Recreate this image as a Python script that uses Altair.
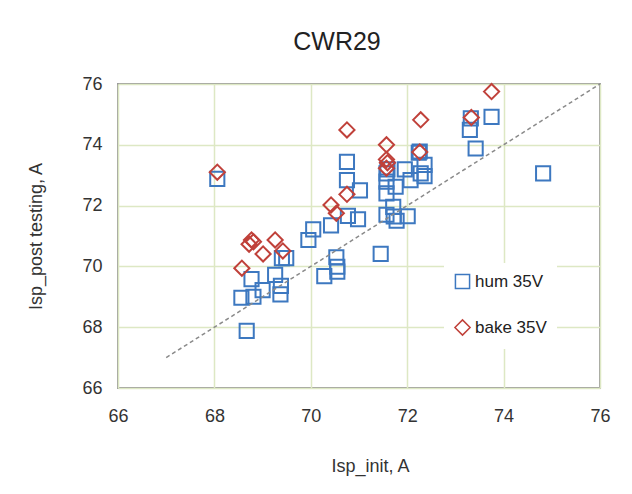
import altair as alt
import pandas as pd

hum_x = [68.06, 68.67, 68.56, 68.81, 68.77, 69.00, 69.26, 69.38, 69.37, 69.40, 69.49, 69.95,
         70.05, 70.42, 70.28, 70.53, 70.55, 70.55, 70.75, 70.75, 71.02, 70.77, 70.98, 71.45,
         71.57, 71.59, 71.57, 71.57, 71.76, 71.95, 72.07, 72.24, 72.26, 72.36, 72.36, 72.28,
         71.57, 71.71, 71.72, 71.78, 72.01, 73.30, 73.32, 73.42, 73.75, 74.82]
hum_y = [72.88, 67.88, 68.97, 69.00, 69.58, 69.22, 69.72, 69.36, 69.08, 70.27, 70.27, 70.87,
         71.22, 71.35, 69.68, 70.30, 69.99, 69.83, 73.44, 72.84, 72.50, 71.66, 71.55, 70.41,
         73.06, 73.19, 72.79, 72.40, 72.62, 73.19, 72.84, 73.74, 73.78, 73.34, 72.97, 73.06,
         71.70, 71.96, 71.64, 71.50, 71.65, 74.49, 74.87, 73.88, 74.92, 73.06]

bake_x = [68.06, 68.57, 68.72, 68.77, 68.81, 69.01, 69.26, 69.42, 70.42, 70.53, 70.75, 70.75,
          71.57, 71.57, 71.59, 71.57, 72.26, 72.28, 73.33, 73.75]
bake_y = [73.10, 69.94, 70.73, 70.87, 70.81, 70.41, 70.87, 70.51, 72.02, 71.75, 72.37, 74.49,
          74.00, 73.52, 73.41, 73.23, 73.76, 74.82, 74.90, 75.75]

series_names = ["hum 35V", "bake 35V"]
line_x = [67, 76]
line_y = [67, 76]
ticks = [66, 68, 70, 72, 74, 76]

df = pd.concat([
    pd.DataFrame({"x": hum_x, "y": hum_y, "series": series_names[0], "order": 0}),
    pd.DataFrame({"x": bake_x, "y": bake_y, "series": series_names[1], "order": 1}),
])
line_df = pd.DataFrame({"x": line_x, "y": line_y})

FONT = "Liberation Sans"
xscale = alt.Scale(domain=[66, 76], nice=False)
yscale = alt.Scale(domain=[66, 76], nice=False)

common = dict(values=ticks, labelFontSize=18, titleFontSize=18,
              labelColor="#333333", titleColor="#333333", labelFont=FONT, titleFont=FONT,
              titleFontWeight="normal", ticks=False, domain=False, labelFlush=False,
              gridColor="#dde8c4", gridWidth=1.5)
xaxis = alt.Axis(title="Isp_init, A", labelPadding=19, titlePadding=32, titleX=252, **common)
yaxis = alt.Axis(title="Isp_post testing, A", labelPadding=16, titlePadding=36, **common)

points = alt.Chart(df).mark_point(filled=False, strokeWidth=2, opacity=1).encode(
    x=alt.X("x:Q", scale=xscale, axis=xaxis),
    y=alt.Y("y:Q", scale=yscale, axis=yaxis),
    color=alt.Color("series:N", scale=alt.Scale(domain=series_names, range=["#3d78c0", "#c0413a"]),
                    legend=alt.Legend(title=None, orient="none", legendX=326, legendY=179,
                                      fillColor="white", padding=10, rowPadding=24,
                                      labelFontSize=17, labelFont=FONT, labelColor="#222222",
                                      symbolStrokeWidth=1.5, symbolSize=100, labelOffset=4)),
    shape=alt.Shape("series:N", scale=alt.Scale(domain=series_names, range=["square", "diamond"]),
                    legend=None),
    size=alt.Size("series:N", scale=alt.Scale(domain=series_names, range=[200, 230]), legend=None),
    order=alt.Order("order:Q"),
)

line = alt.Chart(line_df).mark_line(color="#8a8a8a", strokeDash=[4, 3], strokeWidth=1.5).encode(
    x=alt.X("x:Q", scale=xscale),
    y=alt.Y("y:Q", scale=yscale),
)

chart = alt.layer(points, line).properties(
    width=482, height=304,
    title=alt.TitleParams("CWR29", fontSize=25, font=FONT, color="#222222", fontWeight="normal",
                          dx=-22, offset=20),
    autosize=alt.AutoSizeParams(type="none"),
    padding={"left": 110, "top": 76, "right": 20, "bottom": 94},
).configure_view(stroke="#9a9a9a", strokeWidth=2)

chart.save("out.html", embed_options={"renderer": "svg", "actions": False})
